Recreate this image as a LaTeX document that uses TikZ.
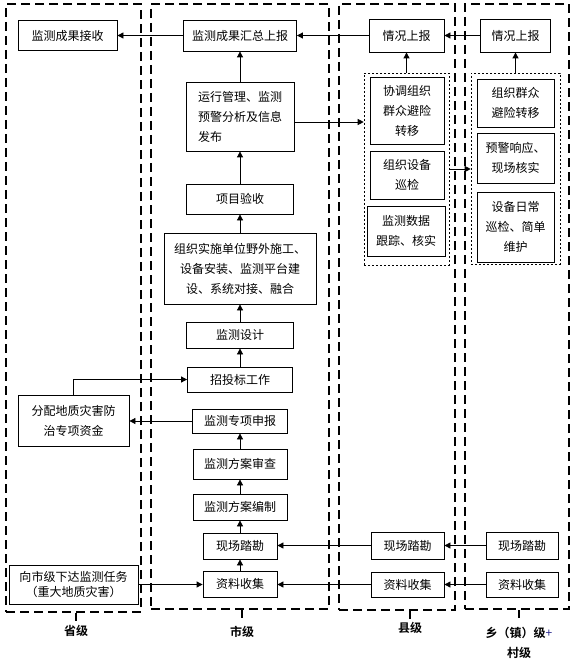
\documentclass[tikz,border=0pt]{standalone}
\usepackage{fontspec}
\setmainfont{Noto Sans CJK SC}[BoldFont={Noto Sans CJK SC Bold}]
\usetikzlibrary{arrows.meta}
\definecolor{plusblue}{RGB}{40,40,140}
\begin{document}
\begin{tikzpicture}[x=1pt,y=-1pt,
  box/.style={draw, line width=0.8pt, inner sep=0pt, align=center, font=\fontsize{12}{20}\selectfont},
  wh/.style 2 args={minimum width=#1pt, minimum height=#2pt},
  col/.style={draw, line width=2pt, dash pattern=on 9pt off 5pt, inner sep=0pt},
  grp/.style={draw, line width=0.6pt, dash pattern=on 2pt off 2pt, inner sep=0pt},
  arr/.style={-{Triangle[length=6pt,width=6pt]}, line width=0.8pt},
  lbl/.style={font=\fontsize{12}{20}\selectfont\bfseries, align=center, inner sep=0pt},
  tick/.style={line width=2pt}]
\useasboundingbox (0,0) rectangle (577,663);
% columns
\node[col, wh={135}{608}] (colProv) at (73.5,308) {};
\node[col, wh={178}{605}] (colCity) at (240,306.5) {};
\node[col, wh={116}{606}] (colCnty) at (397,307) {};
\node[col, wh={104}{605}] (colTown) at (517,306.5) {};
% groups
\node[grp, wh={85}{192}] (cntyGroup) at (406.5,169) {};
\node[grp, wh={89}{191}] (townGroup) at (515.5,168.5) {};
% province
\node[box, wh={99}{30}] (recv) at (67.5,35.5) {监测成果接收};
\node[box, wh={111}{51}] (fp) at (73.5,420.5) {分配地质灾害防\\治专项资金};
\node[box, wh={129}{39}, font=\fontsize{12}{15}\selectfont] (task) at (73.5,584.5) {向市级下达监测任务\\（重大地质灾害）};
% city
\node[box, wh={113}{31}] (sum) at (240,35.5) {监测成果汇总上报};
\node[box, wh={108}{69}, align=left] (run) at (240,116.5) {运行管理、监测\\预警分析及信息\\发布};
\node[box, wh={107}{30}] (ys) at (240,199) {项目验收};
\node[box, wh={152}{71}] (ss) at (240,268.5) {组织实施单位野外施工、\\设备安装、监测平台建\\设、系统对接、融合};
\node[box, wh={107}{26}] (sj) at (240,335) {监测设计};
\node[box, wh={105}{25}] (zb) at (240,379.5) {招投标工作};
\node[box, wh={95}{24}] (sb) at (240,421) {监测专项申报};
\node[box, wh={94}{30}] (sc) at (240,464) {监测方案审查};
\node[box, wh={94}{26}] (bz) at (240,507) {监测方案编制};
\node[box, wh={74}{26}] (xk) at (240,546) {现场踏勘};
\node[box, wh={74}{26}] (zl) at (240,584) {资料收集};
% county
\node[box, wh={75}{33}] (cntyRep) at (406.5,35.5) {情况上报};
\node[box, wh={74}{67}] (cntyA) at (407,110.5) {协调组织\\群众避险\\转移};
\node[box, wh={74}{48}] (cntyB) at (407,175) {组织设备\\巡检};
\node[box, wh={78}{50}] (cntyC) at (406,231) {监测数据\\跟踪、核实};
\node[box, wh={73}{27}] (cntyXk) at (407.5,545.5) {现场踏勘};
\node[box, wh={73}{25}] (cntyZl) at (407.5,584.5) {资料收集};
% town
\node[box, wh={70}{33}] (townRep) at (515.5,35.5) {情况上报};
\node[box, wh={77}{48}] (townA) at (515.5,103) {组织群众\\避险转移};
\node[box, wh={77}{50}] (townB) at (515.5,158) {预警响应、\\现场核实};
\node[box, wh={77}{70}] (townC) at (515.5,227) {设备日常\\巡检、简单\\维护};
\node[box, wh={72}{27}] (townXk) at (522,545.5) {现场踏勘};
\node[box, wh={72}{25}] (townZl) at (522,584.5) {资料收集};
% labels
\node[lbl] (lblProv) at (76,631) {省级};
\node[lbl] (lblCity) at (242,632) {市级};
\node[lbl] (lblCnty) at (410,628) {县级};
\node[lbl] (lblTown) at (519,643) {乡（镇）级{\mdseries\color{plusblue}+}\\村级};
\draw[tick] (lblProv.north |- colProv.south) -- ++(0,8);
\draw[tick] (lblCity.north |- colCity.south) -- ++(0,8);
\draw[tick] (lblCnty.north |- colCnty.south) -- ++(0,8);
\draw[tick] (lblTown.north |- colTown.south) -- ++(0,8);
% top arrows
\draw[arr] (townRep.west) -- (townRep.west -| cntyRep.east);
\draw[arr] (cntyRep.west) -- (cntyRep.west -| sum.east);
\draw[arr] (sum.west) -- (sum.west -| recv.east);
\draw[arr] (cntyGroup.north) -- (cntyRep.south);
\draw[arr] (townGroup.north) -- (townGroup.north |- townRep.south);
\draw[arr] ([yshift=-5.5pt]run.east) -- ([yshift=-5.5pt]run.east -| cntyGroup.west);
\draw[arr] (cntyGroup.east) -- (cntyGroup.east -| townGroup.west);
% city chain
\draw[arr] (run.north) -- (sum.south);
\draw[arr] (ys.north) -- (run.south);
\draw[arr] (ss.north) -- (ys.south);
\draw[arr] (sj.north) -- (ss.south);
\draw[arr] (zb.north) -- (sj.south);
\draw[arr] (sc.north) -- (sb.south);
\draw[arr] (bz.north) -- (sc.south);
\draw[arr] (xk.north) -- (bz.south);
\draw[arr] (zl.north) -- (xk.south);
\draw[arr] (sb.west) -- (sb.west -| fp.east);
\draw[arr] (fp.north) |- (zb.west);
\draw[arr] (task.east) -- (task.east -| zl.west);
% bottom arrows
\draw[arr] (cntyXk.west) -- (cntyXk.west -| xk.east);
\draw[arr] (townXk.west) -- (townXk.west -| cntyXk.east);
\draw[arr] (cntyZl.west) -- (cntyZl.west -| zl.east);
\draw[arr] (townZl.west) -- (townZl.west -| cntyZl.east);
\end{tikzpicture}
\end{document}
